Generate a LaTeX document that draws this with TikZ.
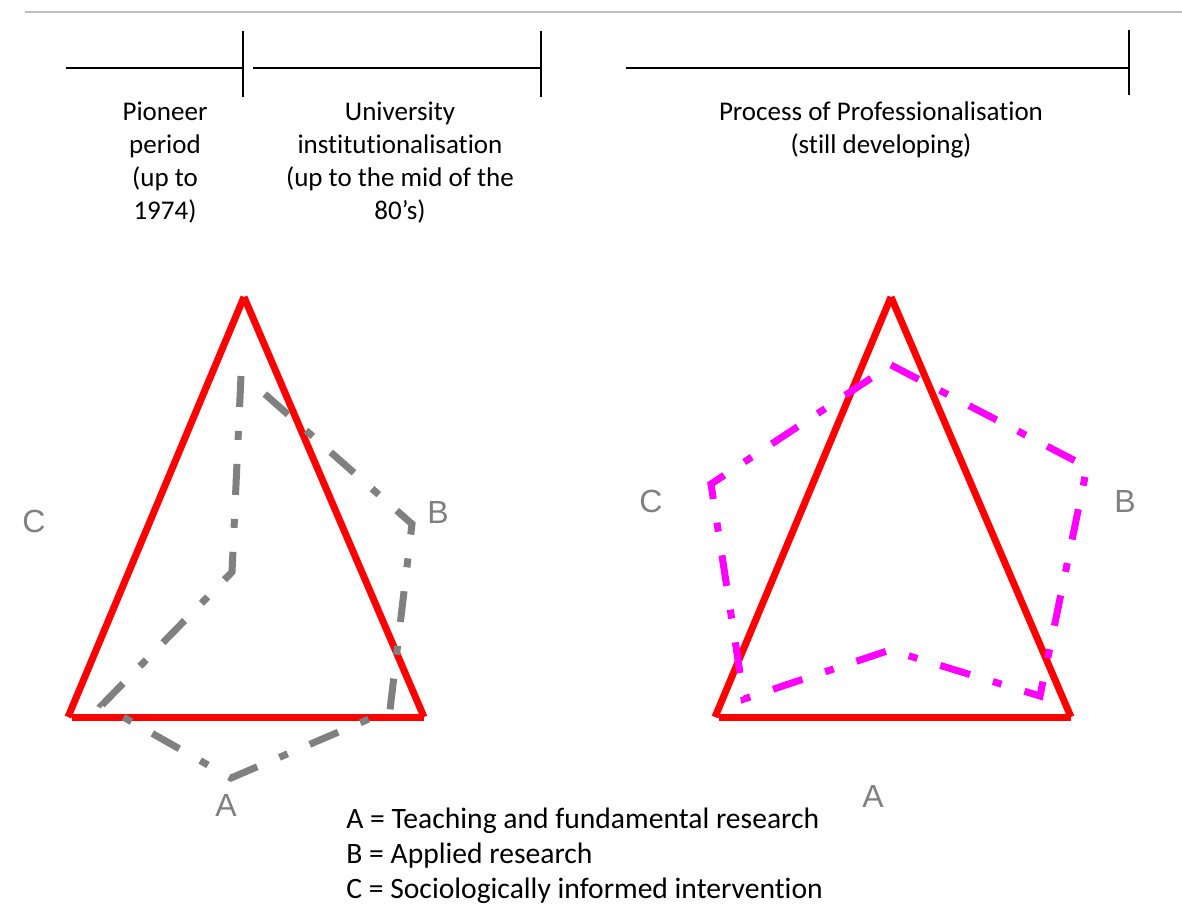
\documentclass[tikz,border=0pt]{standalone}
\usepackage{fontspec}
\setmainfont{Carlito}[Ligatures=NoCommon]
\newfontfamily\lblfont{Liberation Sans}
\definecolor{polygray}{RGB}{128,128,128}
\definecolor{lblgray}{RGB}{128,128,128}
\definecolor{rulegray}{RGB}{190,190,190}
\definecolor{tred}{RGB}{255,0,0}
\definecolor{tmag}{RGB}{255,0,255}
\begin{document}
\begin{tikzpicture}[x=0.5pt,y=-0.5pt,
  tri/.style={tred, line width=3.5pt, line cap=butt},
  polyg/.style={line width=3.5pt, line cap=butt, line join=miter, dash pattern=on 15.5pt off 12pt on 4.5pt off 12pt},
  tick/.style={black, line width=0.7pt},
  period/.style={font=\fontsize{13.5}{16.5}\selectfont, align=center, inner sep=0pt},
  legend/.style={font=\fontsize{14.8}{17.5}\selectfont, align=left, inner sep=0pt},
  axislbl/.style={font=\lblfont\fontsize{16}{19}\selectfont, text=lblgray, inner sep=0pt},
]
\useasboundingbox (0,0) rectangle (1182,923);
% top rule
\coordinate (r1) at (25,12);
\coordinate (r2) at (1182,12);
\draw[rulegray, line width=1pt] (r1) -- (r2);

% timelines
\coordinate (a1) at (66,68);  \coordinate (a2) at (243,68);
\coordinate (a2t) at (243,31); \coordinate (a2b) at (243,97);
\coordinate (b1) at (253,68); \coordinate (b2) at (541,68);
\coordinate (b2t) at (541,31); \coordinate (b2b) at (541,97);
\coordinate (c1) at (626,68); \coordinate (c2) at (1129,68);
\coordinate (c2t) at (1129,30); \coordinate (c2b) at (1129,95);
\draw[tick] (a1) -- (a2);
\draw[tick] (a2t) -- (a2b);
\draw[tick] (b1) -- (b2);
\draw[tick] (b2t) -- (b2b);
\draw[tick] (c1) -- (c2);
\draw[tick] (c2t) -- (c2b);

\node[period] (pion) at (165,163) {Pioneer\\period\\(up to\\1974)};
\node[period] (univ) at (400,163) {University\\institutionalisation\\(up to the mid of the\\80’s)};
\node[period] (prof) at (881,130) {Process of Professionalisation\\(still developing)};

% left triangle
\coordinate (LT) at (244,297);
\coordinate (LL) at (68,717);
\coordinate (LLb) at (72,717);
\coordinate (LR) at (424,717);
\draw[tri] (LL) -- (LT);
\draw[tri] (LT) -- (LR);
\draw[tri] (LLb) -- (LR);

% gray polygon
\coordinate (g1) at (241,376);
\coordinate (g2) at (232,572);
\coordinate (g3) at (102,705);
\coordinate (g4) at (231,778);
\coordinate (g5) at (390,710);
\coordinate (g6) at (412,524);
\coordinate (g7) at (258,388);
\draw[polyg, polygray] (g1) -- (g2) -- (g3) -- (g4) -- (g5) -- (g6) -- (g7);

\node[axislbl] (lC) at (34,521) {C};
\node[axislbl] (lB) at (438,512) {B};
\node[axislbl] (lA) at (226,805) {A};

% right triangle
\coordinate (RT) at (891,297);
\coordinate (RL) at (715,717);
\coordinate (RLb) at (719,717);
\coordinate (RR) at (1071,717);
\draw[tri] (RL) -- (RT);
\draw[tri] (RT) -- (RR);
\draw[tri] (RLb) -- (RR);

% magenta polygon
\coordinate (m1) at (891,365);
\coordinate (m2) at (1087,467);
\coordinate (m3) at (1040,696);
\coordinate (m4) at (890,650);
\coordinate (m5) at (744,699);
\coordinate (m6) at (711,484);
\draw[polyg, tmag] (m1) -- (m2) -- (m3) -- (m4) -- (m5) -- (m6) -- cycle;

\node[axislbl] (rC) at (651,501) {C};
\node[axislbl] (rB) at (1125,501) {B};
\node[axislbl] (rA) at (873,796) {A};

% legend
\node[legend, anchor=west] (leg) at (346,856) {A = Teaching and fundamental research\\B = Applied research\\C = Sociologically informed intervention};
\end{tikzpicture}
\end{document}
